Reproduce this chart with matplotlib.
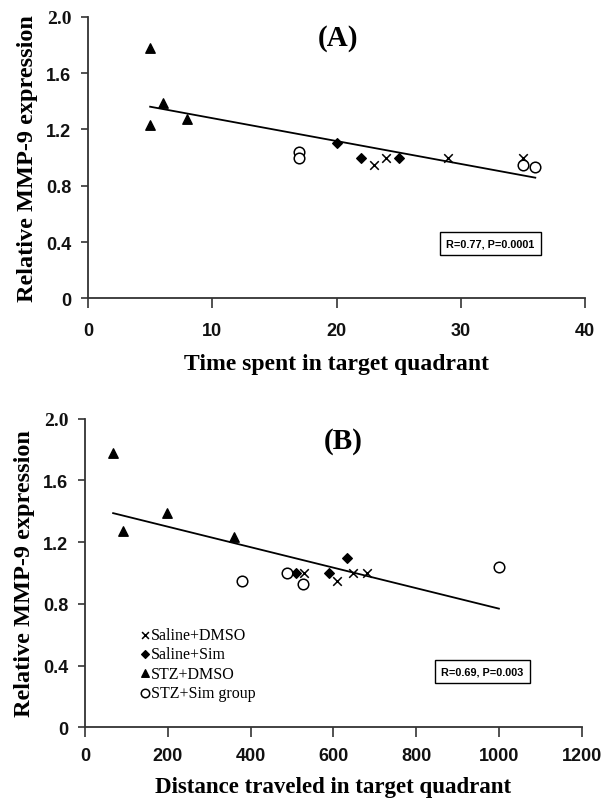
import numpy as np
import matplotlib
matplotlib.use("Agg")
import matplotlib.pyplot as plt
from matplotlib.ticker import FuncFormatter

# panel A: time spent in target quadrant
a_dmso_x = [23, 24, 29, 35]
a_dmso_y = [0.95, 1.00, 1.00, 1.00]
a_sim_x = [20, 22, 25]
a_sim_y = [1.10, 1.00, 1.00]
a_stz_x = [5, 5, 6, 8]
a_stz_y = [1.78, 1.23, 1.39, 1.27]
a_stzsim_x = [17, 17, 35, 36]
a_stzsim_y = [1.04, 1.00, 0.95, 0.93]

# panel B: distance traveled in target quadrant
b_dmso_x = [529, 610, 647, 682]
b_dmso_y = [1.00, 0.95, 1.00, 1.00]
b_sim_x = [510, 590, 632]
b_sim_y = [1.00, 1.00, 1.10]
b_stz_x = [68, 92, 197, 360]
b_stz_y = [1.78, 1.27, 1.39, 1.23]
b_stzsim_x = [380, 487, 527, 1000]
b_stzsim_y = [0.95, 1.00, 0.93, 1.04]

legend_labels = ["Saline+DMSO", "Saline+Sim", "STZ+DMSO", "STZ+Sim group"]
y_ticks = [0, 0.4, 0.8, 1.2, 1.6, 2.0]
a_xticks = [0, 10, 20, 30, 40]
b_xticks = [0, 200, 400, 600, 800, 1000, 1200]

serif = ["Liberation Serif", "DejaVu Serif"]
sans = ["Liberation Sans", "DejaVu Sans"]

fig = plt.figure(figsize=(6.1, 8.04), dpi=100)
axA = fig.add_axes([0.1443, 0.6277, 0.8147, 0.3503])
axB = fig.add_axes([0.1393, 0.0942, 0.8143, 0.3838])


def draw_panel(ax, groups, xticks, xlabel, title, stats, title_xy, stats_xy, xpad, lpad, xsize):
    styles = [
        dict(marker="x", s=38, c="black", linewidths=1.1),
        dict(marker="D", s=24, c="black"),
        dict(marker="^", s=46, c="black"),
        dict(marker="o", s=58, facecolors="white", edgecolors="black", linewidths=1.1),
    ]
    handles = []
    for (gx, gy), st, lab in zip(groups, styles, legend_labels):
        handles.append(ax.scatter(gx, gy, label=lab, zorder=3, **st))
    allx = np.concatenate([g[0] for g in groups]).astype(float)
    ally = np.concatenate([g[1] for g in groups]).astype(float)
    k, b = np.polyfit(allx, ally, 1)
    xs = np.array([allx.min(), allx.max()])
    ax.plot(xs, k * xs + b, color="black", lw=1.3, zorder=2)

    ax.set_xlim(xticks[0], xticks[-1])
    ax.set_ylim(0, 2.0)
    ax.set_xticks(xticks)
    ax.set_yticks(y_ticks)
    ax.yaxis.set_major_formatter(FuncFormatter(lambda v, p: "0" if v == 0 else "%.1f" % v))
    for s in ["top", "right"]:
        ax.spines[s].set_visible(False)
    for s in ["left", "bottom"]:
        ax.spines[s].set_linewidth(1.3)
        ax.spines[s].set_color("#333333")
    ax.tick_params(axis="x", direction="out", length=7, width=1.2, pad=xpad,
                   labelsize=13, color="#333333")
    ax.tick_params(axis="y", direction="out", length=5, width=1.2, pad=7,
                   labelsize=13, color="#333333")
    for lab in ax.get_xticklabels() + ax.get_yticklabels():
        lab.set_family(sans)
        lab.set_fontweight("bold")
        lab.set_color("#111111")
    top = ax.get_yticklabels()[-1]
    top.set_family(serif)
    top.set_fontsize(14)
    ax.set_xlabel(xlabel, family=serif, fontsize=xsize, fontweight="bold", labelpad=lpad)
    ax.set_ylabel("Relative MMP-9 expression", family=serif, fontsize=17.5,
                  fontweight="bold", labelpad=6)
    ax.text(title_xy[0], title_xy[1], title, transform=ax.transAxes, ha="center",
            va="center", family=serif, fontsize=21, fontweight="bold")
    ax.text(stats_xy[0], stats_xy[1], stats, transform=ax.transAxes, ha="center",
            va="center", family=sans, fontsize=7.8, fontweight="bold",
            bbox=dict(boxstyle="square,pad=0.6", fc="white", ec="black", lw=1.0))
    return handles


draw_panel(axA,
           [(a_dmso_x, a_dmso_y), (a_sim_x, a_sim_y), (a_stz_x, a_stz_y), (a_stzsim_x, a_stzsim_y)],
           a_xticks, "Time spent in target quadrant", "(A)", "R=0.77, P=0.0001",
           (0.503, 0.925), (0.81, 0.195), 10, 10, 17)

hB = draw_panel(axB,
                [(b_dmso_x, b_dmso_y), (b_sim_x, b_sim_y), (b_stz_x, b_stz_y), (b_stzsim_x, b_stzsim_y)],
                b_xticks, "Distance traveled in target quadrant", "(B)", "R=0.69, P=0.003",
                (0.52, 0.93), (0.80, 0.18), 7, 9, 16.5)

axB.legend(handles=hB, loc="upper left", bbox_to_anchor=(0.095, 0.35), frameon=False,
           handlelength=0.6, handletextpad=0.1, labelspacing=0.2, borderpad=0,
           prop={"family": serif, "size": 11.5}, markerscale=0.8)

fig.savefig("out.png", dpi=100)
